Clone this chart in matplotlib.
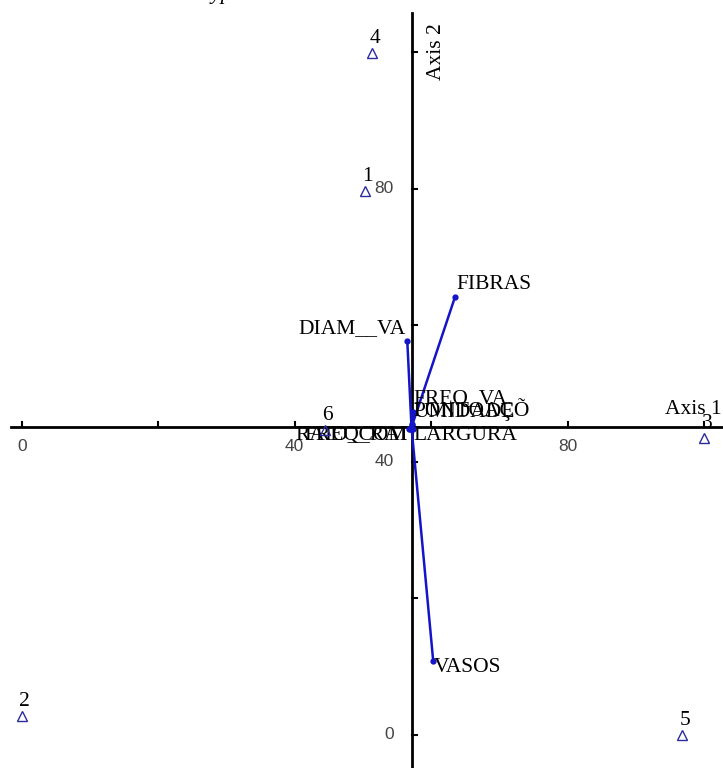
import matplotlib
matplotlib.use('Agg')
from matplotlib import pyplot as plt

# sample scores (plots 1-6)
point_ids = ['1', '2', '3', '4', '5', '6']
axis1 = [50.3, 0.0, 100.0, 51.3, 96.7, 44.4]
axis2 = [79.7, 2.8, 43.5, 99.9, 0.0, 44.7]

# biplot vector tips
var_names = ['FIBRAS', 'DIAM__VA', 'VASOS', 'FREQ_VA', 'PONTOAÇÕ', 'UMIDADE',
             'LARGURA', 'RAIO_COM', 'FREQ_RAI']
var_x = [63.5, 56.5, 60.3, 57.3, 57.2, 57.2, 57.3, 56.9, 56.8]
var_y = [64.2, 57.7, 10.8, 47.3, 45.5, 45.4, 44.9, 44.9, 44.8]

ticks = [0, 20, 40, 60, 80, 100]
labelled = [0, 40, 80]

SERIF = 'Liberation Serif'
SANS = 'Liberation Sans'
VEC = '#1414c8'
PT = '#2b2b9c'
FS = 15.5

fig = plt.figure(figsize=(7.23, 7.68), dpi=100)
ax = fig.add_axes([0, 0, 1, 1])
ax.set_xlim(-3.18, 102.76)
ax.set_ylim(-4.84, 107.69)
ax.axis('off')

# axes run through the centroid of the scores
cx = sum(axis1) / len(axis1)
cy = sum(axis2) / len(axis2)
px = 1 / 6.825  # one pixel in data units

ax.plot([-1.6, 102.76], [cy, cy], color='black', lw=2, clip_on=False)
ax.plot([cx, cx], [-4.84, 105.8], color='black', lw=2, clip_on=False)
for t in ticks:
    ax.plot([t, t], [cy, cy + 5 * px], color='black', lw=1.5)
    ax.plot([cx, cx + 5 * px], [t, t], color='black', lw=1.5)
for t in labelled:
    ax.annotate(str(t), (t, cy), xytext=(0, -19), textcoords='offset pixels',
                ha='center', va='center', fontsize=12.5, family=SANS, color='#444444')
    ax.annotate(str(t), (cx, t), xytext=(-18, 0), textcoords='offset pixels',
                ha='right', va='center', fontsize=12.5, family=SANS, color='#444444')

ax.annotate('Axis 1', (102.6, cy), xytext=(0, 13), textcoords='offset pixels',
            ha='right', va='baseline', fontsize=FS, family=SERIF)
ax.annotate('Axis 2', (cx, 105.8), xytext=(25, -10), textcoords='offset pixels',
            ha='center', va='top', rotation=90, fontsize=FS, family=SERIF)

# vectors
for name, vx, vy in zip(var_names, var_x, var_y):
    ax.plot([cx, vx], [cy, vy], color=VEC, lw=1.8, zorder=3)
    ax.plot(vx, vy, 'o', color=VEC, ms=3.5, zorder=3)
    right = vx >= cx
    up = vy >= cy
    dx = 1 if right else -2
    dy = 8 if up else 3
    ax.annotate(name, (vx, vy), xytext=(dx, dy), textcoords='offset pixels',
                ha='left' if right else 'right',
                va='baseline' if up else 'top',
                fontsize=FS, family=SERIF, zorder=4)

# sample points
ax.plot(axis1, axis2, '^', mfc='none', mec=PT, mew=1, ms=7, zorder=5)
for pid, x, y in zip(point_ids, axis1, axis2):
    ax.annotate(pid, (x, y), xytext=(3, 10), textcoords='offset pixels',
                ha='center', va='baseline', fontsize=FS, family=SERIF)

fig.text(262 / 723, 1 + 0.5 / 768, 'dos clones de Eucalyptus.', ha='right',
         va='baseline', fontsize=FS, family=SERIF, style='italic')

fig.savefig('out.png', dpi=100)
